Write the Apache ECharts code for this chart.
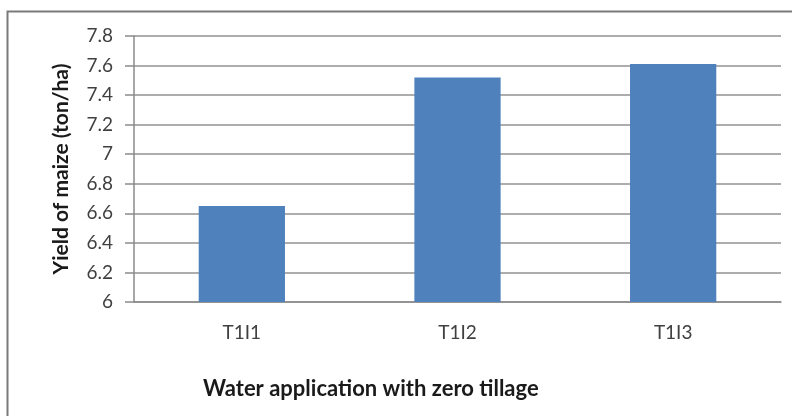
<!DOCTYPE html>
<html>
<head>
<meta charset="utf-8">
<script src="https://cdn.jsdelivr.net/npm/echarts@6/dist/echarts.min.js"></script>
<style>
  html, body { margin: 0; padding: 0; background: #fff; }
  #chart { width: 792px; height: 416px; }
</style>
</head>
<body>
<div id="chart"></div>
<script>
// data
var categories = ["T1I1", "T1I2", "T1I3"];
var yieldValues = [6.65, 7.52, 7.61];
var yMin = 6, yMax = 7.8, yStep = 0.2;

var chart = echarts.init(document.getElementById("chart"));

var option = {
  animation: false,
  // outer chart frame, runs off the right and bottom edge like the source
  graphic: [{
    type: "rect",
    shape: { x: 7.5, y: 11.5, width: 820, height: 440 },
    style: { fill: "none", stroke: "#7a7a7a", lineWidth: 2 },
    silent: true
  }],
  title: {
    text: "Water application with zero tillage",
    left: 198,
    top: 373,
    textStyle: {
      fontFamily: "Lato",
      fontSize: 22,
      fontWeight: "bold",
      color: "#1a1a1a"
    }
  },
  grid: {
    left: 134,
    right: 11,
    top: 36,
    bottom: 114
  },
  xAxis: {
    type: "category",
    data: categories,
    axisTick: { show: false },
    axisLine: { lineStyle: { color: "#8a8a8a", width: 1.5 } },
    axisLabel: {
      margin: 21,
      fontFamily: "Lato",
      fontSize: 19,
      color: "#404040"
    }
  },
  yAxis: {
    type: "value",
    min: yMin,
    max: yMax,
    interval: yStep,
    name: "Yield of maize (ton/ha)",
    nameLocation: "middle",
    nameGap: 62,
    nameTextStyle: {
      fontFamily: "Lato",
      fontSize: 21,
      fontWeight: "bold",
      color: "#1a1a1a"
    },
    axisLine: { show: true, lineStyle: { color: "#8a8a8a", width: 1.5 } },
    axisTick: { show: true, length: 9, lineStyle: { color: "#8a8a8a", width: 1.5 } },
    splitLine: { lineStyle: { color: "#929292", width: 1.5 } },
    axisLabel: {
      margin: 21,
      fontFamily: "Lato",
      fontSize: 19,
      color: "#404040",
      formatter: function (v) {
        return String(Math.round(v * 10) / 10);
      }
    }
  },
  series: [{
    type: "bar",
    data: yieldValues,
    barWidth: "40%",
    itemStyle: { color: "#4f81bd" }
  }]
};

chart.setOption(option);
</script>
</body>
</html>
